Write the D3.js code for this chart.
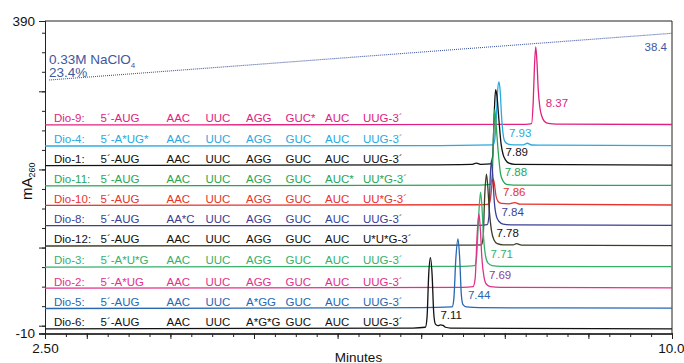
<!DOCTYPE html>
<html><head><meta charset="utf-8">
<script src="https://cdn.jsdelivr.net/npm/d3@7"></script>
<style>
html,body{margin:0;padding:0;background:#fff;}
svg{display:block;font-family:"Liberation Sans",Arial,Helvetica,sans-serif;}
</style></head>
<body><svg id="c" width="684" height="363"></svg>
<script>
// ---------- DATA ----------
const names = ["Dio-9:","Dio-4:","Dio-1:","Dio-11:","Dio-10:","Dio-8:","Dio-12:","Dio-3:","Dio-2:","Dio-5:","Dio-6:"];
const codons = [
  ["5\u00B4-AUG","AAC","UUC","AGG","GUC*","AUC","UUG-3\u00B4"],
  ["5\u00B4-A*UG*","AAC","UUC","AGG","GUC","AUC","UUG-3\u00B4"],
  ["5\u00B4-AUG","AAC","UUC","AGG","GUC","AUC","UUG-3\u00B4"],
  ["5\u00B4-AUG","AAC","UUC","AGG","GUC","AUC*","UU*G-3\u00B4"],
  ["5\u00B4-AUG","AAC","UUC","AGG","GUC","AUC","UU*G-3\u00B4"],
  ["5\u00B4-AUG","AA*C","UUC","AGG","GUC","AUC","UUG-3\u00B4"],
  ["5\u00B4-AUG","AAC","UUC","AGG","GUC","AUC","U*U*G-3\u00B4"],
  ["5\u00B4-A*U*G","AAC","UUC","AGG","GUC","AUC","UUG-3\u00B4"],
  ["5\u00B4-A*UG","AAC","UUC","AGG","GUC","AUC","UUG-3\u00B4"],
  ["5\u00B4-AUG","AAC","UUC","A*GG","GUC","AUC","UUG-3\u00B4"],
  ["5\u00B4-AUG","AAC","UUC","A*G*G","GUC","AUC","UUG-3\u00B4"]
];
const retention = [8.37,7.93,7.89,7.88,7.86,7.84,7.78,7.71,7.69,7.44,7.11];
const baselines = [257,230,205,179,154,128,102,75,48,22,-4];   // mA offsets of stacked traces
// each trace: [minutes, mA above its baseline]
const traceDio9  = [[2.5,0],[6.0,0.3],[8.25,0.8],[8.32,1.5],[8.34,30],[8.355,75],[8.37,100],[8.385,80],[8.40,45],[8.42,22],[8.44,12],[8.47,5],[8.52,2],[8.62,1],[10,0.5]];
const traceDio4  = [[2.5,0],[7.0,0.5],[7.86,1.5],[7.88,8],[7.90,40],[7.915,72],[7.93,82],[7.945,70],[7.96,40],[7.98,15],[8.0,6],[8.04,2.5],[8.1,1.5],[8.22,1.5],[8.27,3.5],[8.32,1.3],[8.5,1],[10,0.5]];
const traceDio1  = [[2.5,0],[7.0,0.8],[7.6,1.5],[7.66,3],[7.72,1.5],[7.83,2],[7.855,12],[7.875,70],[7.89,97],[7.905,90],[7.93,58],[7.955,28],[7.98,14],[8.01,7],[8.05,3],[8.12,1.5],[10,0.5]];
const traceDio11 = [[2.5,0],[7.7,1],[7.83,2],[7.85,15],[7.87,80],[7.88,98],[7.895,80],[7.92,45],[7.95,15],[7.98,6],[8.02,2],[8.1,1],[10,0.5]];
const traceDio10 = [[2.5,0],[7.7,0.8],[7.81,1.5],[7.83,10],[7.85,30],[7.86,34],[7.875,28],[7.895,12],[7.92,5],[7.96,2.5],[8.05,2],[8.12,3.5],[8.18,1.5],[10,0.5]];
const traceDio8  = [[2.5,0],[7.7,0.5],[7.79,1.5],[7.81,12],[7.825,60],[7.84,84],[7.855,66],[7.875,30],[7.9,12],[7.935,5],[7.98,2],[8.1,1],[10,0.5]];
const traceDio12 = [[2.5,0],[7.5,1],[7.72,1.5],[7.74,10],[7.76,65],[7.78,92],[7.795,78],[7.815,45],[7.84,20],[7.87,8],[7.91,3],[7.98,1.5],[8.1,1.5],[8.14,3],[8.2,1.2],[10,0.5]];
const traceDio3  = [[2.5,0],[7.5,1],[7.64,2],[7.66,10],[7.69,70],[7.71,96],[7.725,80],[7.745,40],[7.77,14],[7.8,5],[7.85,2],[7.95,1],[10,0.5]];
const traceDio2  = [[2.5,0],[7.5,1],[7.62,2],[7.645,12],[7.67,70],[7.69,95],[7.705,80],[7.725,40],[7.75,15],[7.78,5],[7.83,2],[7.95,1],[10,0.5]];
const traceDio5  = [[2.5,0],[7.0,1],[7.37,2],[7.39,12],[7.415,65],[7.44,89],[7.46,65],[7.48,18],[7.5,5],[7.54,2],[7.7,1],[10,0.5]];
const traceDio6  = [[2.5,0],[6.9,1],[7.05,2],[7.07,15],[7.09,70],[7.11,91],[7.13,70],[7.15,20],[7.17,6],[7.2,4],[7.23,5],[7.26,4.5],[7.29,2],[7.35,1],[10,0]];
const traces = [traceDio9,traceDio4,traceDio1,traceDio11,traceDio10,traceDio8,traceDio12,traceDio3,traceDio2,traceDio5,traceDio6];
const gradientTimes = [2.55, 10];
const gradientPct = [23.4, 38.4];
const xDomain = [2.5, 10];
const yDomain = [-10, 390];
const xTickLabels = ["2.50","10.0"];
const yTickLabels = ["-10","390"];

// ---------- STYLE ----------
const lineColors = ["#e0227e","#29a9e1","#111111","#29a655","#e8322b","#3b3f95","#3e3c26","#36b06a","#e2318a","#2767b2","#111111"];
const textColors = ["#e0227e","#29a9e1","#111111","#29a655","#e8322b","#3b3f95","#111111","#36b06a","#e2318a","#2767b2","#111111"];
const peakColors = ["#e0227e","#29a9e1","#111111","#29a655","#e8322b","#3b3f95","#111111","#36b06a","#8e3f98","#2767b2","#111111"];
const colX = [54,100.5,166.5,205.5,246,285.5,325,363];
const gradColor = "#4157a0";

const svg = d3.select("#c");
const x = d3.scaleLinear().domain(xDomain).range([45,672]);
const y = d3.scaleLinear().domain(yDomain).range([333.5,21]);
const gScale = d3.scaleLinear().domain(gradientPct).range([314.5,374.3]); // % B -> mA-equivalent height

// frame top & right
svg.append("line").attr("x1",x(2.5)).attr("x2",x(10)).attr("y1",y(390)).attr("y2",y(390)).attr("stroke","#222").attr("stroke-width",1);
svg.append("line").attr("x1",x(10)).attr("x2",x(10)).attr("y1",y(390)).attr("y2",y(-10)).attr("stroke","#222").attr("stroke-width",1);

// y axis
const minorY = d3.range(0,376,25);
const gy = svg.append("g").attr("transform",`translate(${x(2.5)},0)`);
gy.call(d3.axisLeft(y).tickValues(minorY).tickSize(3).tickFormat(""));
gy.call(g=>g.append("g").call(d3.axisLeft(y).tickValues([0,100,200,300]).tickSize(6).tickFormat("")));
gy.call(g=>g.append("g").call(d3.axisLeft(y).tickValues([-10,390]).tickSize(6).tickFormat((d,i)=>yTickLabels[i])));
gy.selectAll("path.domain").attr("stroke","#222");
gy.selectAll("line").attr("stroke","#222");
gy.selectAll("text").attr("font-size","13.5px").attr("fill","#111").attr("font-family","Liberation Sans, Arial, sans-serif").attr("dx","-1");

// x axis
const gx = svg.append("g").attr("transform",`translate(0,${y(-10)})`);
gx.call(d3.axisBottom(x).tickValues(d3.range(2.5,10.01,0.25)).tickSize(3.5).tickFormat(""));
gx.call(g=>g.append("g").call(d3.axisBottom(x).tickValues([2.5,3,4,5,6,7,8,9,10]).tickSize(5.5).tickFormat("")));
gx.call(g=>g.append("g").call(d3.axisBottom(x).tickValues([2.5,10]).tickSize(5.5).tickFormat((d,i)=>xTickLabels[i])));
gx.selectAll("path.domain").attr("stroke","#222");
gx.selectAll("line").attr("stroke","#222");
gx.selectAll("text").attr("font-size","13.5px").attr("fill","#111").attr("font-family","Liberation Sans, Arial, sans-serif").attr("dy","0.8em");
gx.selectAll("text").filter(d=>d===10).attr("text-anchor","end").attr("dx","12");

// axis titles
svg.append("text").attr("x",x(6.25)).attr("y",361.5).attr("text-anchor","middle").attr("font-size","13.5px").attr("fill","#111").text("Minutes");
const yl = svg.append("text").attr("transform",`translate(32,${y(185)}) rotate(-90)`).attr("text-anchor","middle").attr("font-size","15px").attr("fill","#111");
yl.append("tspan").text("mA");
yl.append("tspan").attr("font-size","9px").attr("dy","3").text("260");

// gradient line
const gline = d3.line().x(d=>x(d[0])).y(d=>y(gScale(d[1])));
svg.append("path").datum(gradientTimes.map((t,i)=>[t,gradientPct[i]])).attr("d",gline)
  .attr("fill","none").attr("stroke",gradColor).attr("stroke-width",1.1).attr("stroke-dasharray","1,1");
const gt = svg.append("text").attr("x",49).attr("y",64).attr("font-size","13.5px").attr("fill",gradColor);
gt.append("tspan").text("0.33M NaClO");
gt.append("tspan").attr("font-size","8px").attr("dy","3.5").text("4");
gt.append("tspan").attr("x",49).attr("dy","9.5").text(gradientPct[0]+"%");
svg.append("text").attr("x",667).attr("y",50.5).attr("text-anchor","end").attr("font-size","11.5px").attr("fill",gradColor).text(gradientPct[1].toFixed(1));

// traces
const line = d3.line().curve(d3.curveMonotoneX);
traces.forEach((tr,i)=>{
  const b = baselines[i];
  svg.append("path").datum(tr).attr("d",line.x(d=>x(d[0])).y(d=>y(b+d[1]))(tr))
    .attr("fill","none").attr("stroke",lineColors[i]).attr("stroke-width",1.3).attr("stroke-linejoin","round");
});

// sequence labels
names.forEach((n,i)=>{
  const ty = y(baselines[i]) - 2.6;
  const g = svg.append("g").attr("fill",textColors[i]).attr("font-size","11.5px");
  g.append("text").attr("x",colX[0]).attr("y",ty).text(n);
  codons[i].forEach((c,j)=>g.append("text").attr("x",colX[j+1]).attr("y",ty).text(c));
});

// peak labels
retention.forEach((t,i)=>{
  const dy = i===0 ? -18 : -9.5;
  svg.append("text").attr("x",x(t)+10).attr("y",y(baselines[i])+dy)
    .attr("font-size","11.5px").attr("fill",peakColors[i]).text(t.toFixed(2));
});
</script></body></html>
